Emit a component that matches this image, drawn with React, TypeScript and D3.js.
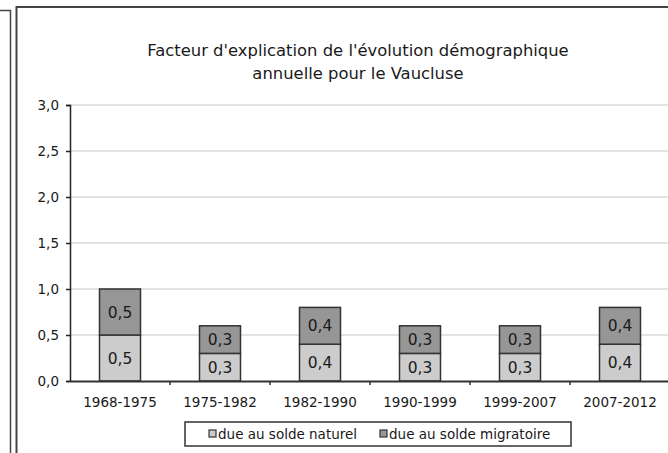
import { useEffect, useRef } from "react";
import * as d3 from "d3";

const periods = ["1968-1975", "1975-1982", "1982-1990", "1990-1999", "1999-2007", "2007-2012"];
const naturel = [0.5, 0.3, 0.4, 0.3, 0.3, 0.4];
const migratoire = [0.5, 0.3, 0.4, 0.3, 0.3, 0.4];
const seriesNames = ["due au solde naturel", "due au solde migratoire"];
const yTicks = [0, 0.5, 1, 1.5, 2, 2.5, 3];
const titleLines = ["Facteur d'explication de l'évolution démographique", "annuelle pour le Vaucluse"];

const colors = ["#cccccc", "#969696"];
const fmt = (v: number) => v.toFixed(1).replace(".", ",");

const App = () => {
  const ref = useRef<SVGSVGElement | null>(null);

  useEffect(() => {
    if (!ref.current) return;
    const svg = d3.select(ref.current);
    svg.selectAll("*").remove();

    const width = 668;
    const height = 453;
    const margin = { top: 105, right: -2, bottom: 72, left: 70 };
    const font = "'DejaVu Sans', Verdana, sans-serif";
    const ink = "#1a1a1a";

    // frames: the neighbouring box on the left and the chart box
    svg
      .append("path")
      .attr("d", "M0,10.5H10.5V453")
      .attr("fill", "none")
      .attr("stroke", "#444")
      .attr("stroke-width", 1.5);
    svg
      .append("rect")
      .attr("x", 16.5)
      .attr("y", 7)
      .attr("width", 700)
      .attr("height", 500)
      .attr("fill", "#fff")
      .attr("stroke", "#444")
      .attr("stroke-width", 2);

    const title = svg
      .append("text")
      .attr("font-family", font)
      .attr("font-size", 16.4)
      .attr("fill", ink)
      .attr("text-anchor", "middle");
    titleLines.forEach((t, i) => {
      title
        .append("tspan")
        .attr("x", 358)
        .attr("y", 56 + i * 23)
        .text(t);
    });

    const x = d3
      .scaleBand()
      .domain(periods)
      .range([margin.left, width - margin.right])
      .paddingInner(0.59)
      .paddingOuter(0.295);

    const xb = d3
      .scaleBand()
      .domain(periods)
      .range([margin.left, width - margin.right]);

    const y = d3
      .scaleLinear()
      .domain([0, 3])
      .range([height - margin.bottom, margin.top]);

    // gridlines
    svg
      .append("g")
      .selectAll("line")
      .data(yTicks.slice(1))
      .enter()
      .append("line")
      .attr("x1", margin.left)
      .attr("x2", width)
      .attr("y1", (d) => y(d))
      .attr("y2", (d) => y(d))
      .attr("stroke", "#d9d9d9")
      .attr("stroke-width", 1.5);

    const rows = periods.map((p, i) => ({ p, n: naturel[i], m: migratoire[i] }));
    const stack = d3.stack<{ p: string; n: number; m: number }>().keys(["n", "m"])(rows);

    const layers = svg
      .append("g")
      .selectAll("g")
      .data(stack)
      .enter()
      .append("g")
      .attr("fill", (_, i) => colors[i]);

    layers
      .selectAll("rect")
      .data((d) => d)
      .enter()
      .append("rect")
      .attr("x", (d) => x(d.data.p)!)
      .attr("width", x.bandwidth())
      .attr("y", (d) => y(d[1]))
      .attr("height", (d) => y(d[0]) - y(d[1]))
      .attr("stroke", "#333")
      .attr("stroke-width", 1.5);

    layers
      .selectAll("text")
      .data((d) => d)
      .enter()
      .append("text")
      .attr("x", (d) => x(d.data.p)! + x.bandwidth() / 2)
      .attr("y", (d) => (y(d[0]) + y(d[1])) / 2)
      .attr("dy", "0.36em")
      .attr("text-anchor", "middle")
      .attr("font-family", font)
      .attr("font-size", 15.5)
      .attr("fill", ink)
      .text((d) => fmt(d[1] - d[0]));

    // y axis
    const yAxis = svg
      .append("g")
      .attr("transform", `translate(${margin.left},0)`)
      .call(
        d3
          .axisLeft(y)
          .tickValues(yTicks)
          .tickSize(4)
          .tickPadding(7)
          .tickFormat((d) => fmt(d as number))
      );
    yAxis.select(".domain").attr("stroke", "#222").attr("stroke-width", 1.5);
    yAxis.selectAll(".tick line").attr("stroke", "#222").attr("stroke-width", 1.5);
    yAxis
      .selectAll("text")
      .attr("font-family", font)
      .attr("font-size", 13.5)
      .attr("fill", ink);

    // x axis
    const xAxis = svg
      .append("g")
      .attr("transform", `translate(0,${y(0)})`)
      .call(d3.axisBottom(xb).tickSize(0).tickPadding(16));
    xAxis.select(".domain").attr("stroke", "#333").attr("stroke-width", 2);
    xAxis
      .selectAll("text")
      .attr("font-family", font)
      .attr("font-size", 13.5)
      .attr("fill", ink);
    svg
      .append("g")
      .selectAll("line")
      .data(periods.slice(1))
      .enter()
      .append("line")
      .attr("x1", (d) => xb(d)!)
      .attr("x2", (d) => xb(d)!)
      .attr("y1", y(0))
      .attr("y2", y(0) + 4)
      .attr("stroke", "#333")
      .attr("stroke-width", 1.5);

    // legend
    const legend = svg.append("g").attr("transform", "translate(185,422)");
    legend
      .append("rect")
      .attr("width", 386)
      .attr("height", 24)
      .attr("fill", "#fff")
      .attr("stroke", "#333")
      .attr("stroke-width", 1.5);
    const items = legend
      .selectAll("g.item")
      .data(seriesNames)
      .enter()
      .append("g")
      .attr("class", "item")
      .attr("transform", (_, i) => `translate(${[24, 195][i]},0)`);
    items
      .append("rect")
      .attr("x", 0)
      .attr("y", 8)
      .attr("width", 7)
      .attr("height", 7)
      .attr("fill", (_, i) => colors[i])
      .attr("stroke", "#333")
      .attr("stroke-width", 1.2);
    items
      .append("text")
      .attr("x", 9)
      .attr("y", 12)
      .attr("dy", "0.36em")
      .attr("font-family", font)
      .attr("font-size", 13.5)
      .attr("fill", ink)
      .text((d) => d);
  }, []);

  return (
    <svg
      ref={ref}
      width={668}
      height={453}
      style={{ position: "absolute", left: 0, top: 0, background: "#fff" }}
    />
  );
};

export default App;
